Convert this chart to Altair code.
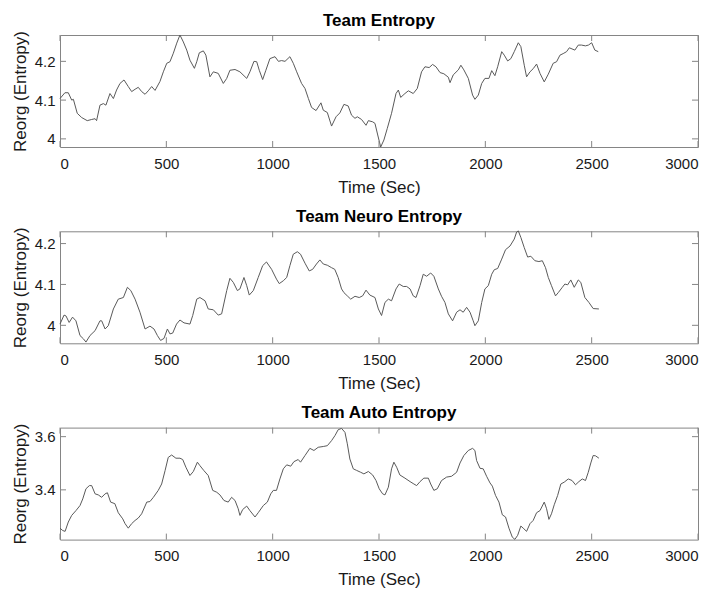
import altair as alt
import pandas as pd

# ---------------- data ----------------
x_ticks = [0, 500, 1000, 1500, 2000, 2500, 3000]
panel_titles = ["Team Entropy", "Team Neuro Entropy", "Team Auto Entropy"]
y_ticks_team = [4.0, 4.1, 4.2]
y_ticks_neuro = [4.0, 4.1, 4.2]
y_ticks_auto = [3.4, 3.6]

team_t = [0, 23, 39, 55, 63, 81, 102, 128, 149, 165, 172, 188, 204, 216, 235, 251, 266, 282, 301, 321,
          337, 353, 368, 384, 400, 415, 431, 447, 470, 486, 502, 517, 533, 549, 564, 580, 596, 611, 632, 643,
          655, 674, 686, 705, 721, 744, 768, 784, 799, 823, 846, 878, 893, 912, 925, 937, 953, 968, 987, 1011,
          1027, 1042, 1058, 1081, 1097, 1113, 1136, 1152, 1168, 1183, 1204, 1227, 1238, 1257, 1277, 1298, 1316, 1335, 1355, 1371,
          1387, 1398, 1418, 1439, 1450, 1470, 1481, 1494, 1508, 1523, 1539, 1559, 1580, 1591, 1602, 1622, 1638, 1661, 1680, 1700,
          1716, 1736, 1752, 1768, 1787, 1805, 1826, 1834, 1849, 1873, 1885, 1899, 1920, 1940, 1951, 1967, 1983, 1998, 2017, 2030,
          2045, 2058, 2077, 2089, 2105, 2120, 2136, 2155, 2167, 2183, 2194, 2210, 2225, 2241, 2257, 2277, 2296, 2319, 2335, 2351,
          2366, 2382, 2395, 2421, 2437, 2452, 2471, 2485, 2500, 2515, 2531]
team_v = [4.104, 4.119, 4.119, 4.100, 4.102, 4.066, 4.055, 4.047, 4.050, 4.052, 4.047, 4.087, 4.091, 4.087, 4.117, 4.104, 4.126, 4.143, 4.152, 4.135,
          4.122, 4.128, 4.133, 4.122, 4.115, 4.124, 4.135, 4.125, 4.148, 4.173, 4.195, 4.199, 4.221, 4.247, 4.268, 4.250, 4.229, 4.203, 4.182, 4.199,
          4.222, 4.227, 4.216, 4.160, 4.173, 4.169, 4.143, 4.156, 4.177, 4.179, 4.173, 4.156, 4.173, 4.200, 4.199, 4.177, 4.153, 4.177, 4.207, 4.212,
          4.200, 4.202, 4.200, 4.212, 4.195, 4.173, 4.143, 4.130, 4.104, 4.081, 4.073, 4.093, 4.074, 4.068, 4.033, 4.057, 4.067, 4.089, 4.085, 4.061,
          4.053, 4.057, 4.050, 4.035, 4.047, 4.044, 4.040, 4.010, 3.979, 3.997, 4.027, 4.066, 4.117, 4.126, 4.107, 4.117, 4.124, 4.117, 4.130, 4.173,
          4.186, 4.184, 4.192, 4.186, 4.171, 4.168, 4.159, 4.145, 4.165, 4.178, 4.190, 4.178, 4.156, 4.113, 4.102, 4.113, 4.143, 4.156, 4.156, 4.176,
          4.163, 4.186, 4.225, 4.216, 4.201, 4.207, 4.225, 4.248, 4.238, 4.190, 4.160, 4.173, 4.181, 4.193, 4.169, 4.147, 4.167, 4.195, 4.199, 4.216,
          4.220, 4.225, 4.235, 4.229, 4.242, 4.242, 4.240, 4.242, 4.248, 4.229, 4.225]

neuro_t = [0, 19, 28, 43, 59, 75, 94, 110, 122, 141, 165, 188, 196, 212, 227, 251, 274, 298, 317, 333,
           353, 376, 400, 423, 442, 458, 473, 489, 505, 517, 530, 548, 564, 583, 611, 624, 643, 658, 682, 697,
           721, 744, 760, 784, 799, 815, 834, 846, 865, 878, 890, 909, 932, 953, 971, 995, 1018, 1031, 1050, 1066,
           1081, 1097, 1116, 1131, 1152, 1172, 1188, 1206, 1222, 1238, 1257, 1277, 1292, 1308, 1324, 1335, 1351, 1367, 1387, 1407,
           1423, 1439, 1457, 1481, 1497, 1512, 1528, 1544, 1559, 1580, 1595, 1614, 1630, 1646, 1661, 1674, 1693, 1708, 1724, 1743,
           1758, 1779, 1794, 1810, 1826, 1846, 1865, 1881, 1896, 1912, 1928, 1943, 1951, 1967, 1983, 1998, 2014, 2030, 2042, 2058,
           2077, 2095, 2116, 2136, 2147, 2155, 2167, 2183, 2199, 2214, 2233, 2252, 2268, 2283, 2296, 2311, 2330, 2343, 2362, 2374,
           2387, 2402, 2418, 2437, 2449, 2468, 2487, 2507, 2534]
neuro_v = [4.003, 4.025, 4.023, 4.007, 4.020, 4.011, 3.975, 3.967, 3.959, 3.975, 3.987, 4.011, 4.011, 3.991, 3.999, 4.040, 4.064, 4.068, 4.093, 4.085,
           4.064, 4.032, 3.991, 3.998, 3.991, 3.975, 3.963, 3.968, 3.991, 3.979, 3.981, 4.003, 4.013, 4.006, 4.003, 4.024, 4.064, 4.068, 4.060, 4.040,
           4.038, 4.025, 4.028, 4.085, 4.115, 4.105, 4.085, 4.089, 4.117, 4.097, 4.074, 4.085, 4.117, 4.146, 4.155, 4.137, 4.113, 4.102, 4.109, 4.117,
           4.146, 4.174, 4.180, 4.174, 4.152, 4.133, 4.137, 4.150, 4.160, 4.150, 4.147, 4.141, 4.137, 4.117, 4.089, 4.080, 4.072, 4.064, 4.071, 4.068,
           4.072, 4.086, 4.074, 4.068, 4.040, 4.024, 4.056, 4.064, 4.060, 4.089, 4.101, 4.095, 4.095, 4.089, 4.072, 4.068, 4.097, 4.125, 4.120, 4.128,
           4.120, 4.089, 4.071, 4.056, 4.028, 4.011, 4.032, 4.038, 4.032, 4.044, 4.032, 4.011, 3.999, 4.011, 4.056, 4.089, 4.097, 4.125, 4.136, 4.139,
           4.162, 4.185, 4.194, 4.211, 4.228, 4.231, 4.215, 4.190, 4.167, 4.169, 4.158, 4.156, 4.158, 4.141, 4.117, 4.097, 4.072, 4.080, 4.093, 4.101,
           4.099, 4.111, 4.093, 4.111, 4.105, 4.068, 4.056, 4.041, 4.040]

auto_t = [0, 13, 24, 39, 55, 75, 94, 107, 122, 138, 149, 165, 180, 196, 212, 223, 238, 258, 274, 295,
          306, 321, 337, 353, 368, 384, 408, 423, 439, 462, 478, 494, 509, 525, 545, 564, 577, 592, 611, 627,
          646, 658, 677, 697, 718, 737, 752, 771, 791, 807, 823, 838, 846, 859, 878, 893, 917, 932, 956, 975,
          991, 1003, 1018, 1034, 1050, 1066, 1085, 1100, 1120, 1131, 1152, 1175, 1194, 1214, 1238, 1257, 1277, 1293, 1308, 1324,
          1340, 1351, 1363, 1379, 1395, 1414, 1429, 1450, 1470, 1486, 1501, 1517, 1528, 1544, 1559, 1570, 1583, 1598, 1622, 1646,
          1664, 1677, 1693, 1711, 1732, 1743, 1758, 1774, 1794, 1818, 1841, 1865, 1881, 1899, 1920, 1940, 1951, 1959, 1975, 1990,
          2006, 2022, 2033, 2048, 2064, 2080, 2095, 2111, 2127, 2139, 2152, 2167, 2178, 2194, 2210, 2225, 2241, 2257, 2277, 2288,
          2299, 2311, 2324, 2340, 2355, 2371, 2390, 2408, 2424, 2440, 2456, 2471, 2484, 2496, 2507, 2518, 2534]
auto_v = [3.256, 3.247, 3.244, 3.279, 3.304, 3.322, 3.341, 3.366, 3.404, 3.416, 3.416, 3.385, 3.381, 3.372, 3.385, 3.389, 3.354, 3.348, 3.314, 3.291,
          3.273, 3.256, 3.273, 3.285, 3.294, 3.310, 3.354, 3.356, 3.372, 3.398, 3.422, 3.472, 3.522, 3.531, 3.519, 3.519, 3.514, 3.485, 3.454, 3.469,
          3.504, 3.491, 3.472, 3.454, 3.398, 3.391, 3.381, 3.360, 3.354, 3.372, 3.360, 3.329, 3.304, 3.326, 3.339, 3.322, 3.298, 3.314, 3.341, 3.354,
          3.385, 3.398, 3.398, 3.441, 3.479, 3.494, 3.489, 3.506, 3.514, 3.504, 3.529, 3.556, 3.548, 3.560, 3.563, 3.566, 3.585, 3.604, 3.626, 3.631,
          3.616, 3.573, 3.516, 3.479, 3.473, 3.466, 3.460, 3.469, 3.456, 3.435, 3.404, 3.385, 3.381, 3.410, 3.479, 3.504, 3.485, 3.456, 3.444, 3.431,
          3.422, 3.416, 3.431, 3.444, 3.444, 3.422, 3.398, 3.404, 3.435, 3.448, 3.451, 3.466, 3.501, 3.529, 3.548, 3.556, 3.548, 3.510, 3.481, 3.479,
          3.451, 3.426, 3.414, 3.379, 3.354, 3.306, 3.298, 3.256, 3.222, 3.214, 3.229, 3.264, 3.256, 3.244, 3.273, 3.285, 3.314, 3.322, 3.354, 3.329,
          3.289, 3.310, 3.344, 3.379, 3.422, 3.429, 3.441, 3.435, 3.419, 3.431, 3.441, 3.435, 3.466, 3.501, 3.529, 3.528, 3.519]

# ---------------- styling / layout ----------------
W, H = 638, 112
TICK = 6
FONT = "Liberation Sans"
FRAME = "#858585"
LINE_C = "#5a5a5a"
TEXT_C = "#1a1a1a"


def panel(title, t, v, y_ticks, y_domain):
    df = pd.DataFrame({"t": t, "v": v})
    xs = alt.Scale(domain=[0, 3000], nice=False, zero=False)
    ys = alt.Scale(domain=y_domain, nice=False, zero=False)
    x_axis = alt.Axis(values=x_ticks, format="d", labelPadding=9, titlePadding=8)
    y_axis = alt.Axis(values=y_ticks, format=".1~f", labelPadding=5, titlePadding=5)
    line = alt.Chart(df).mark_line(color=LINE_C, strokeWidth=1).encode(
        x=alt.X("t:Q", scale=xs, axis=x_axis, title="Time (Sec)"),
        y=alt.Y("v:Q", scale=ys, axis=y_axis, title="Reorg (Entropy)"),
    )
    xdf = pd.DataFrame({"t": x_ticks})
    ydf = pd.DataFrame({"v": y_ticks})
    bottom = alt.Chart(xdf).mark_rule(color=FRAME).encode(
        x=alt.X("t:Q", scale=xs, axis=x_axis, title="Time (Sec)"), y=alt.value(H), y2=alt.value(H - TICK))
    top = alt.Chart(xdf).mark_rule(color=FRAME).encode(
        x=alt.X("t:Q", scale=xs, axis=x_axis, title="Time (Sec)"), y=alt.value(0), y2=alt.value(TICK))
    left = alt.Chart(ydf).mark_rule(color=FRAME).encode(
        y=alt.Y("v:Q", scale=ys, axis=y_axis, title="Reorg (Entropy)"), x=alt.value(0), x2=alt.value(TICK))
    right = alt.Chart(ydf).mark_rule(color=FRAME).encode(
        y=alt.Y("v:Q", scale=ys, axis=y_axis, title="Reorg (Entropy)"), x=alt.value(W), x2=alt.value(W - TICK))
    return alt.layer(line, bottom, top, left, right).properties(
        width=W, height=H,
        title=alt.TitleParams(title, font=FONT, fontSize=17, fontWeight="bold", color="#000000",
                              offset=1, anchor="middle"),
    )


p1 = panel(panel_titles[0], team_t, team_v, y_ticks_team, [3.979, 4.268])
p2 = panel(panel_titles[1], neuro_t, neuro_v, y_ticks_neuro, [3.956, 4.230])
p3 = panel(panel_titles[2], auto_t, auto_v, y_ticks_auto, [3.213, 3.634])

chart = alt.vconcat(p1, p2, p3, spacing=84.3, bounds="flush").properties(
    padding={"left": 2, "top": 3, "right": 0, "bottom": 0},
    background="white",
).configure_view(
    stroke=FRAME, strokeWidth=1
).configure_axis(
    labelFont=FONT, labelFontSize=15, labelColor=TEXT_C,
    titleFont=FONT, titleFontSize=17, titleFontWeight="normal", titleColor=TEXT_C,
    ticks=False, domain=False, grid=False,
)

chart.save("out.html", embed_options={"renderer": "svg", "actions": False})
